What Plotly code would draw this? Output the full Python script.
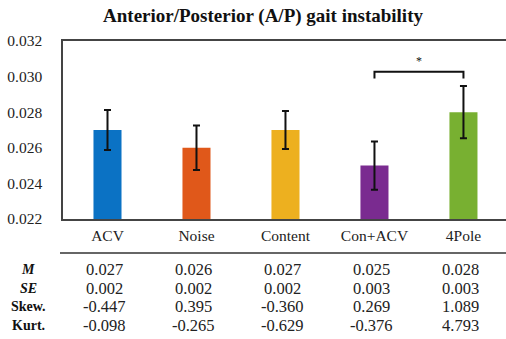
import plotly.graph_objects as go

# Conditions and summary statistics
conditions = ["ACV", "Noise", "Content", "Con+ACV", "4Pole"]
means = [0.027, 0.026, 0.027, 0.025, 0.028]
err_half = [0.00112, 0.00125, 0.00107, 0.00135, 0.00147]
se_vals = ["0.002", "0.002", "0.002", "0.003", "0.003"]
skew_vals = ["-0.447", "0.395", "-0.360", "0.269", "1.089"]
kurt_vals = ["-0.098", "-0.265", "-0.629", "-0.376", "4.793"]
bar_colors = ["#0B72C4", "#E0581A", "#EDB01F", "#7A2B90", "#78B031"]

# Significance bracket between Con+ACV and 4Pole
sig_pair = ("Con+ACV", "4Pole")
sig_y = 0.03027
sig_leg = 0.0299
sig_label = "*"

FONT = "Liberation Serif, Times New Roman, serif"
W, H = 506, 339
M_L, M_R, M_T, M_B = 63, 0, 41, 120
plot_h = H - M_T - M_B

fig = go.Figure()
fig.add_trace(go.Bar(
    x=conditions, y=means,
    marker=dict(color=bar_colors, line=dict(width=0)),
    width=0.315,
    error_y=dict(type="data", array=err_half, visible=True,
                 color="#111111", thickness=2, width=3.5),
))

i0 = conditions.index(sig_pair[0])
i1 = conditions.index(sig_pair[1])
fig.add_shape(type="path",
              path=f"M {i0},{sig_leg} L {i0},{sig_y} L {i1},{sig_y} L {i1},{sig_leg}",
              xref="x", yref="y", line=dict(color="#111111", width=2))
fig.add_annotation(x=(i0 + i1) / 2, y=sig_y, xref="x", yref="y",
                   text=sig_label, showarrow=False, yshift=11,
                   font=dict(family=FONT, size=12, color="#111111"))


def py(pix):
    """Convert a pixel row to paper y coordinate."""
    return (H - M_B - pix) / plot_h


# Table separator line
fig.add_shape(type="line", xref="paper", yref="paper",
              x0=(60 - M_L) / (W - M_L - M_R), x1=1.0,
              y0=py(253), y1=py(253),
              line=dict(color="#333333", width=1.5))

rows = [
    ("<b><i>M</i></b>", [f"{m:.3f}" for m in means], 269),
    ("<b><i>SE</i></b>", se_vals, 288),
    ("<b>Skew.</b>", skew_vals, 306.5),
    ("<b>Kurt.</b>", kurt_vals, 325.5),
]
for label, vals, ypix in rows:
    fig.add_annotation(x=(28 - M_L) / (W - M_L - M_R), y=py(ypix),
                       xref="paper", yref="paper", text=label,
                       showarrow=False, xanchor="center", yanchor="middle",
                       font=dict(family=FONT, size=14, color="#111111"))
    for c, v in zip(conditions, vals):
        fig.add_annotation(x=c, y=py(ypix), xref="x", yref="paper",
                           text=v, showarrow=False, xanchor="center",
                           yanchor="middle", xshift=-3,
                           font=dict(family=FONT, size=16.5, color="#222222"))

fig.update_layout(
    width=W, height=H,
    margin=dict(l=M_L, r=M_R, t=M_T, b=M_B, pad=0),
    paper_bgcolor="white", plot_bgcolor="white",
    showlegend=False,
    title=dict(text="<b>Anterior/Posterior (A/P) gait instability</b>",
               x=(263) / W, xanchor="center", y=1 - 15 / H, yanchor="middle",
               font=dict(family=FONT, size=19, color="#111111")),
    xaxis=dict(range=[-0.5, 4.478], showline=True, linecolor="#444444",
               linewidth=1.5, mirror=True, showgrid=False, ticks="",
               tickfont=dict(family=FONT, size=15.5, color="#222222"),
               ticklabelstandoff=2),
    yaxis=dict(range=[0.022, 0.032], dtick=0.002, tickformat=".3f",
               showline=True, linecolor="#444444", linewidth=1.5,
               showgrid=False, ticks="", zeroline=False,
               tickfont=dict(family=FONT, size=15.5, color="#222222"),
               ticklabelstandoff=16),
)

fig.write_html("out.html")
